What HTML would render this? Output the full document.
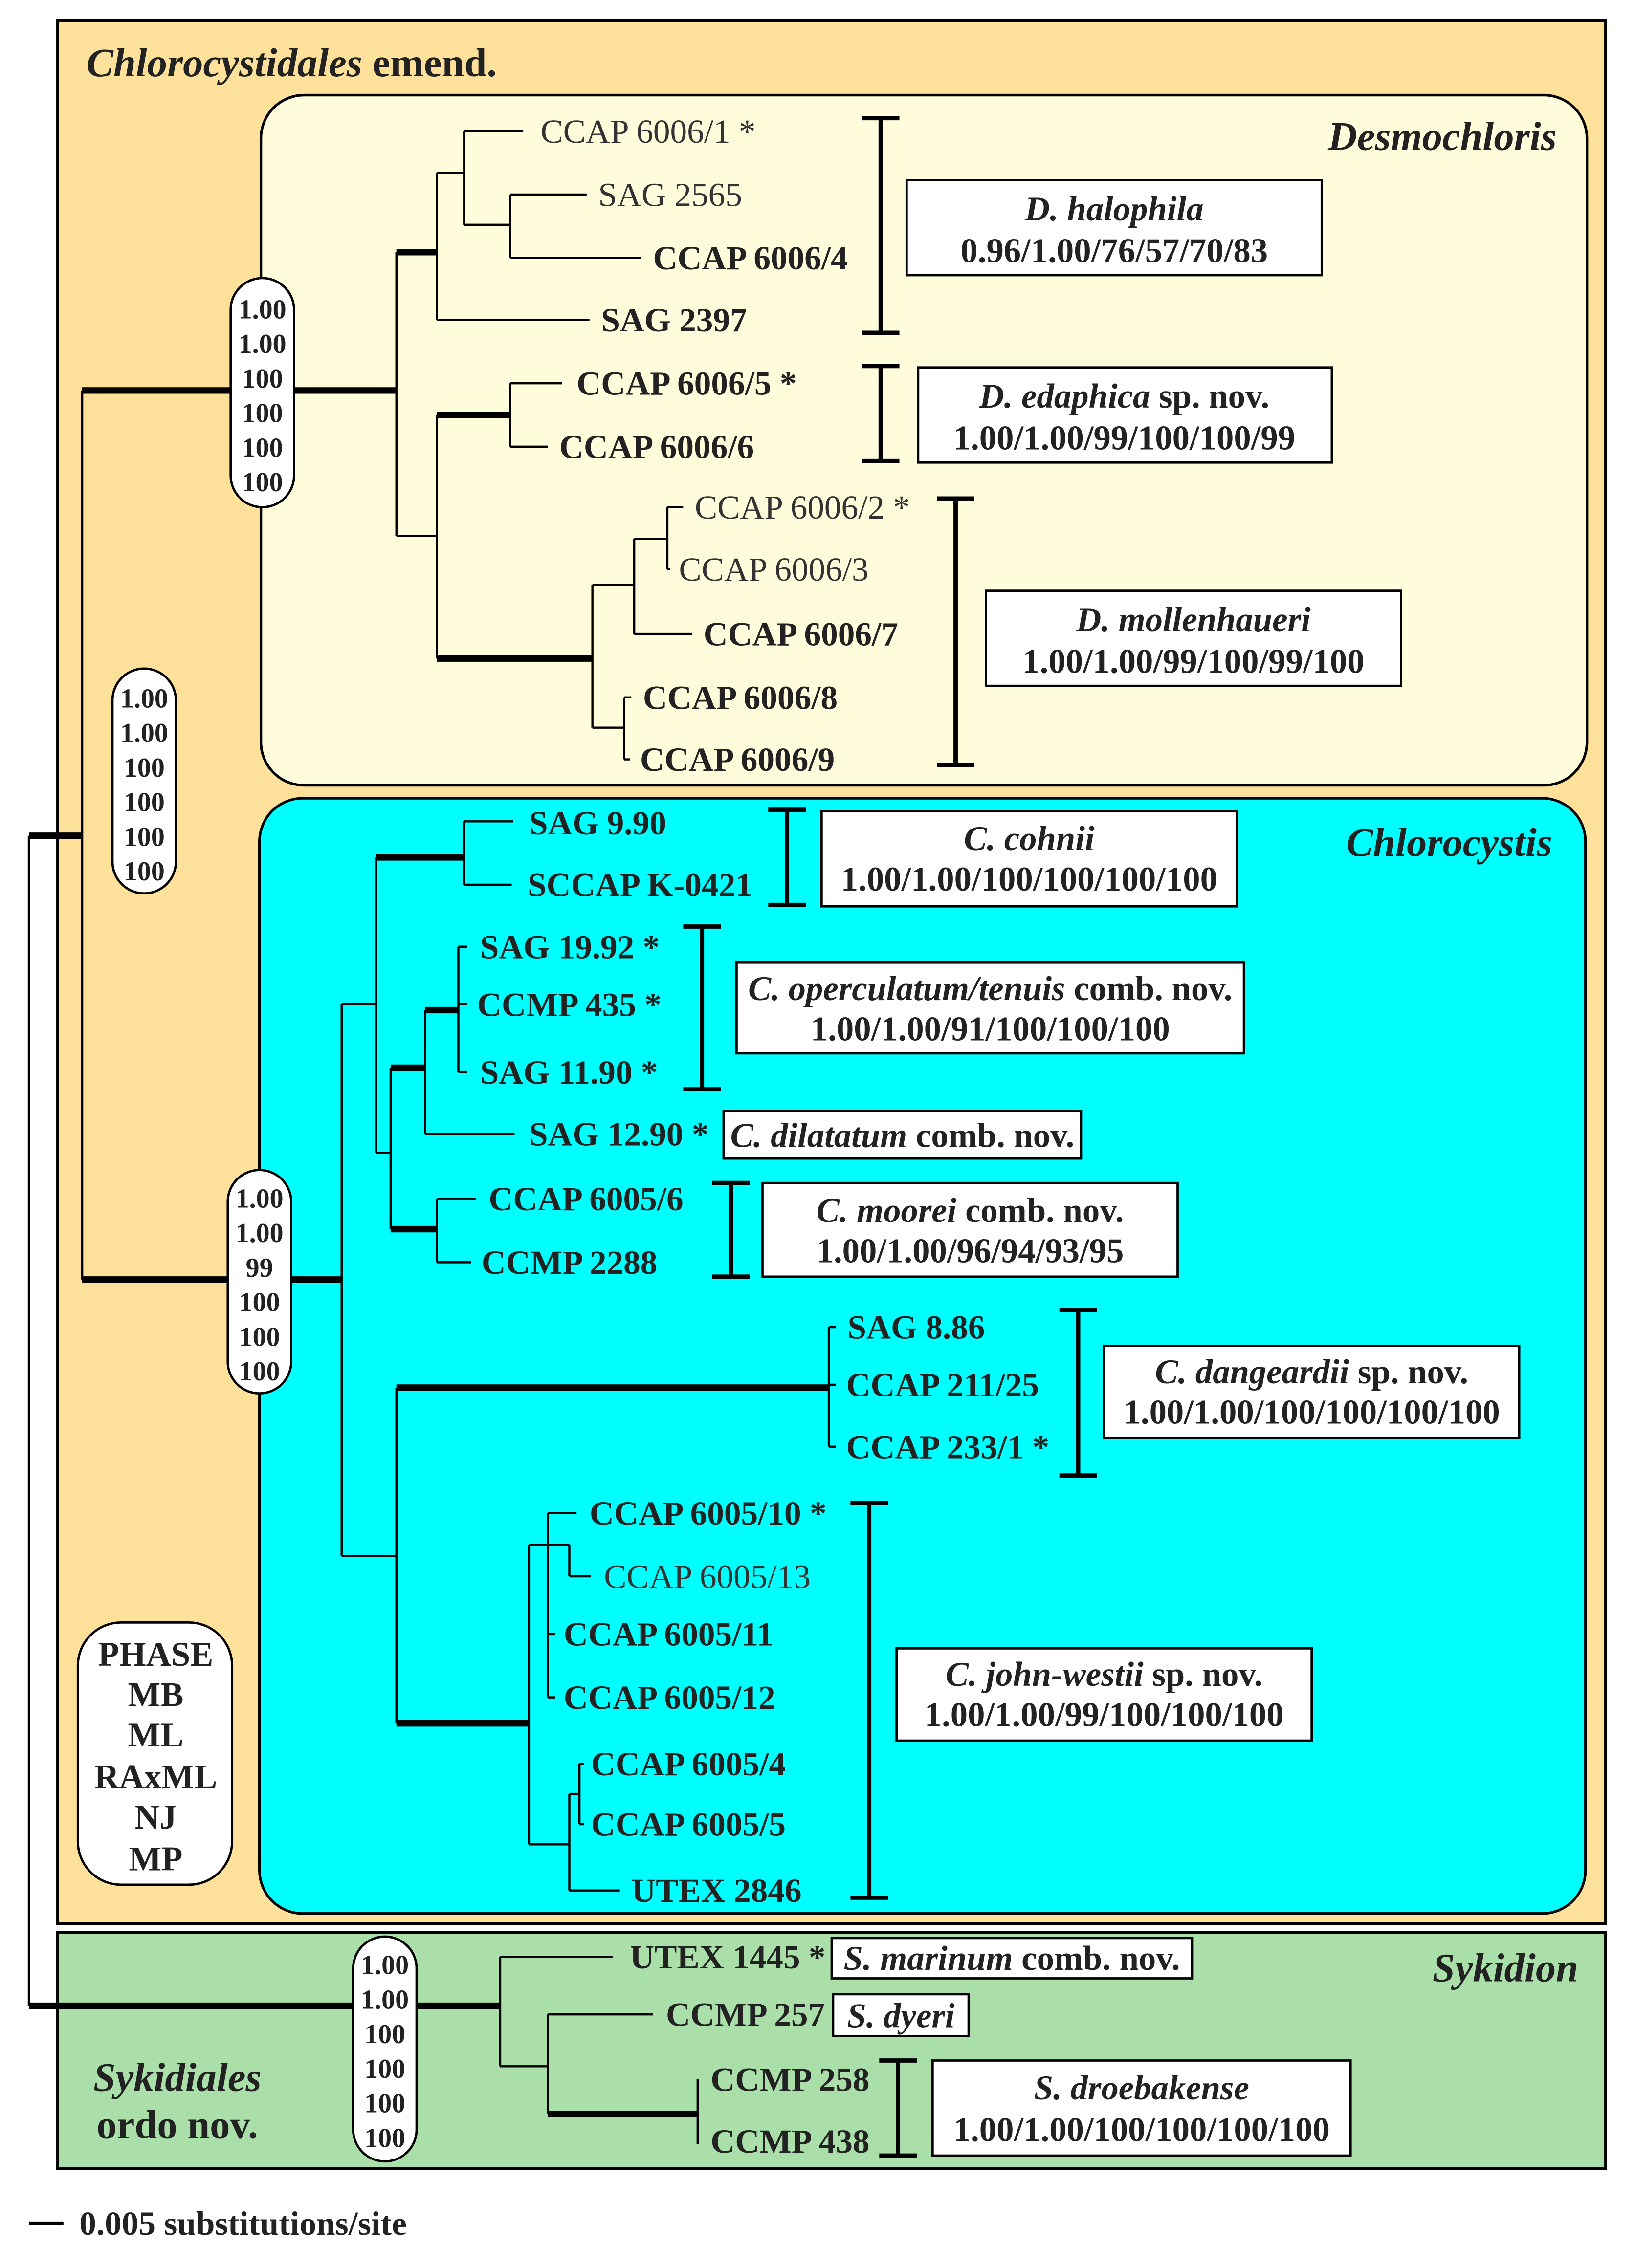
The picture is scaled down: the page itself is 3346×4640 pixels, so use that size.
<!DOCTYPE html>
<html><head><meta charset="utf-8"><style>
html,body{margin:0;padding:0;background:#fff}
svg{display:block}
text{font-family:"Liberation Serif",serif;fill:#222}
.b{font-weight:bold}
.n{font-weight:normal;fill:#333}
.t{stroke:#000;stroke-width:1.5;fill:none}
.k{stroke:#000;stroke-width:4.5;fill:none}
.bar{stroke:#000;stroke-width:3;fill:none}
.box{fill:#fff;stroke:#000;stroke-width:1.6}
.p{font-size:19px;font-weight:bold;text-anchor:middle}
.l{font-size:23.5px}
.c{text-anchor:middle;font-size:24px;font-weight:bold}
</style></head><body>
<svg width="3346" height="4640" viewBox="0 0 1135 1574" xmlns="http://www.w3.org/2000/svg">
<rect width="1135" height="1574" fill="#fff"/>
<rect x="40" y="14" width="1074" height="1321" fill="#FDE09A" stroke="#000" stroke-width="2"/>
<rect x="40" y="1341" width="1074" height="164" fill="#AADFAA" stroke="#000" stroke-width="2"/>
<rect x="181" y="66" width="920" height="479" rx="30" fill="#FEFCDA" stroke="#000" stroke-width="1.8"/>
<rect x="180" y="554" width="920" height="774" rx="30" fill="#00FFFF" stroke="#000" stroke-width="1.8"/>

<text x="60" y="53" class="b" font-size="28"><tspan font-style="italic">Chlorocystidales</tspan> emend.</text>
<text x="1080" y="104" class="b" font-size="28" font-style="italic" text-anchor="end">Desmochloris</text>
<text x="1077" y="594" class="b" font-size="28" font-style="italic" text-anchor="end">Chlorocystis</text>
<text x="1095" y="1375" class="b" font-size="28" font-style="italic" text-anchor="end">Sykidion</text>
<text x="123" y="1451" class="b" font-size="28" font-style="italic" text-anchor="middle">Sykidiales</text>
<text x="123" y="1484" class="b" font-size="28" text-anchor="middle">ordo nov.</text>

<!-- root -->
<path class="t" d="M20 580 V1392 M57 271 V888"/>
<path class="k" d="M20 580 H57 M57 271 H275 M57 888 H237 M20 1392 H347"/>

<!-- Desmochloris -->
<path class="t" d="M275 175 V372 M303 120 V222 M303 120 H322 M322 91 V156 M322 91 H363 M322 156 H354 M354 135 V179 M354 135 H407 M354 179 H445 M303 222 H409
M275 372 H303 M303 288 V457 M354 266 V310 M354 266 H390 M354 310 H380
M411 406 V505 M411 406 H440 M440 374 V440 M440 374 H463 M463 352 V395 M463 352 H474 M463 395 H465 M440 440 H480 M411 505 H433 M433 484 V527 M433 484 H438 M433 527 H437"/>
<path class="k" d="M275 175 H303 M303 288 H354 M303 457 H411"/>
<text x="375" y="99" class="l n">CCAP 6006/1 *</text>
<text x="415" y="143" class="l n">SAG 2565</text>
<text x="453" y="187" class="l b">CCAP 6006/4</text>
<text x="417" y="230" class="l b">SAG 2397</text>
<text x="400" y="274" class="l b">CCAP 6006/5 *</text>
<text x="388" y="318" class="l b">CCAP 6006/6</text>
<text x="482" y="360" class="l n">CCAP 6006/2 *</text>
<text x="471" y="403" class="l n">CCAP 6006/3</text>
<text x="488" y="448" class="l b">CCAP 6006/7</text>
<text x="446" y="492" class="l b">CCAP 6006/8</text>
<text x="444" y="535" class="l b">CCAP 6006/9</text>

<path class="bar" d="M611 82 V231 M598 82 H624 M598 231 H624 M611 254 V320 M598 254 H624 M598 320 H624 M663 346 V531 M650 346 H676 M650 531 H676"/>
<rect class="box" x="629" y="125" width="288" height="66"/>
<text x="773" y="153" class="c"><tspan font-style="italic">D. halophila</tspan></text>
<text x="773" y="182" class="c">0.96/1.00/76/57/70/83</text>
<rect class="box" x="637" y="255" width="287" height="66"/>
<text x="780" y="283" class="c"><tspan font-style="italic">D. edaphica</tspan> sp. nov.</text>
<text x="780" y="312" class="c">1.00/1.00/99/100/100/99</text>
<rect class="box" x="684" y="410" width="288" height="66"/>
<text x="828" y="438" class="c"><tspan font-style="italic">D. mollenhaueri</tspan></text>
<text x="828" y="467" class="c">1.00/1.00/99/100/99/100</text>

<!-- Chlorocystis -->
<path class="t" d="M237 697 V1080 M237 697 H261 M261 595 V800 M322 570 V614 M322 570 H356 M322 614 H355 M261 800 H271 M271 741 V853 M295 701 V787 M318 657 V744 M318 657 H324 M318 697 H324 M318 744 H324 M295 787 H357 M303 832 V876 M303 832 H330 M303 876 H327
M237 1080 H275 M275 963 V1196 M575 921 V1004 M575 921 H580 M575 961 H580 M575 1004 H580
M367 1072 V1280 M367 1072 H380 M380 1050 V1178 M380 1050 H400 M380 1072 H395 M395 1072 V1094 M395 1094 H410 M380 1134 H385 M380 1178 H385
M367 1280 H395 M395 1245 V1312 M395 1245 H402 M402 1224 V1266 M402 1224 H405 M402 1266 H405 M395 1312 H430"/>
<path class="k" d="M261 595 H322 M271 741 H295 M295 701 H318 M271 853 H303 M275 963 H575 M275 1196 H367"/>
<text x="367" y="579" class="l b">SAG 9.90</text>
<text x="366" y="622" class="l b">SCCAP K-0421</text>
<text x="333" y="665" class="l b">SAG 19.92 *</text>
<text x="331" y="705" class="l b">CCMP 435 *</text>
<text x="333" y="752" class="l b">SAG 11.90 *</text>
<text x="367" y="795" class="l b">SAG 12.90 *</text>
<text x="339" y="840" class="l b">CCAP 6005/6</text>
<text x="334" y="884" class="l b">CCMP 2288</text>
<text x="588" y="929" class="l b">SAG 8.86</text>
<text x="587" y="969" class="l b">CCAP 211/25</text>
<text x="587" y="1012" class="l b">CCAP 233/1 *</text>
<text x="409" y="1058" class="l b">CCAP 6005/10 *</text>
<text x="419" y="1102" class="l n">CCAP 6005/13</text>
<text x="391" y="1142" class="l b">CCAP 6005/11</text>
<text x="391" y="1186" class="l b">CCAP 6005/12</text>
<text x="410" y="1232" class="l b">CCAP 6005/4</text>
<text x="410" y="1274" class="l b">CCAP 6005/5</text>
<text x="438" y="1320" class="l b">UTEX 2846</text>

<path class="bar" d="M546 562 V628 M533 562 H559 M533 628 H559 M487 643 V756 M474 643 H500 M474 756 H500 M507 821 V886 M494 821 H520 M494 886 H520 M748 909 V1024 M735 909 H761 M735 1024 H761 M603 1043 V1317 M590 1043 H616 M590 1317 H616"/>
<rect class="box" x="570" y="563" width="288" height="66"/>
<text x="714" y="590" class="c"><tspan font-style="italic">C. cohnii</tspan></text>
<text x="714" y="618" class="c">1.00/1.00/100/100/100/100</text>
<rect class="box" x="511" y="668" width="352" height="63"/>
<text x="687" y="694" class="c"><tspan font-style="italic">C. operculatum/tenuis</tspan> comb. nov.</text>
<text x="687" y="722" class="c">1.00/1.00/91/100/100/100</text>
<rect class="box" x="502" y="771" width="248" height="33"/>
<text x="626" y="796" class="c"><tspan font-style="italic">C. dilatatum</tspan> comb. nov.</text>
<rect class="box" x="529" y="821" width="288" height="65"/>
<text x="673" y="848" class="c"><tspan font-style="italic">C. moorei</tspan> comb. nov.</text>
<text x="673" y="876" class="c">1.00/1.00/96/94/93/95</text>
<rect class="box" x="766" y="934" width="288" height="64"/>
<text x="910" y="960" class="c"><tspan font-style="italic">C. dangeardii</tspan> sp. nov.</text>
<text x="910" y="988" class="c">1.00/1.00/100/100/100/100</text>
<rect class="box" x="622" y="1144" width="288" height="64"/>
<text x="766" y="1170" class="c"><tspan font-style="italic">C. john-westii</tspan> sp. nov.</text>
<text x="766" y="1198" class="c">1.00/1.00/99/100/100/100</text>

<!-- Sykidion -->
<path class="t" d="M347 1358 V1434 M347 1358 H425 M347 1434 H380 M380 1398 V1467 M380 1398 H453 M484 1443 V1488"/>
<path class="k" d="M380 1467 H484"/>
<text x="437" y="1366" class="l b">UTEX 1445 *</text>
<text x="462" y="1406" class="l b">CCMP 257</text>
<text x="493" y="1451" class="l b">CCMP 258</text>
<text x="493" y="1494" class="l b">CCMP 438</text>
<rect class="box" x="577" y="1345" width="250" height="28"/>
<text x="702" y="1367" class="c"><tspan font-style="italic">S. marinum</tspan> comb. nov.</text>
<rect class="box" x="578" y="1384" width="94" height="29"/>
<text x="625" y="1407" class="c" font-style="italic">S. dyeri</text>
<path class="bar" d="M623 1430 V1496 M610 1430 H636 M610 1496 H636"/>
<rect class="box" x="647" y="1430" width="290" height="66"/>
<text x="792" y="1457" class="c"><tspan font-style="italic">S. droebakense</tspan></text>
<text x="792" y="1486" class="c">1.00/1.00/100/100/100/100</text>

<!-- pills -->
<rect class="box" x="160" y="193" width="44" height="159" rx="22"/>
<g class="p"><text x="182" y="221">1.00</text><text x="182" y="245">1.00</text><text x="182" y="269">100</text><text x="182" y="293">100</text><text x="182" y="317">100</text><text x="182" y="341">100</text></g>
<rect class="box" x="78" y="464" width="44" height="156" rx="22"/>
<g class="p"><text x="100" y="491">1.00</text><text x="100" y="515">1.00</text><text x="100" y="539">100</text><text x="100" y="563">100</text><text x="100" y="587">100</text><text x="100" y="611">100</text></g>
<rect class="box" x="158" y="812" width="44" height="155" rx="22"/>
<g class="p"><text x="180" y="838">1.00</text><text x="180" y="862">1.00</text><text x="180" y="886">99</text><text x="180" y="910">100</text><text x="180" y="934">100</text><text x="180" y="958">100</text></g>
<rect class="box" x="245" y="1344" width="44" height="156" rx="22"/>
<g class="p"><text x="267" y="1370">1.00</text><text x="267" y="1394">1.00</text><text x="267" y="1418">100</text><text x="267" y="1442">100</text><text x="267" y="1466">100</text><text x="267" y="1490">100</text></g>

<rect class="box" x="54" y="1126" width="107" height="182" rx="30"/>
<g class="c"><text x="108" y="1156">PHASE</text><text x="108" y="1184">MB</text><text x="108" y="1212">ML</text><text x="108" y="1241">RAxML</text><text x="108" y="1269">NJ</text><text x="108" y="1298">MP</text></g>

<path d="M20 1543 H44" stroke="#000" stroke-width="2.5"/>
<text x="55" y="1551" class="b" font-size="23.5">0.005 substitutions/site</text>
</svg>
</body></html>
